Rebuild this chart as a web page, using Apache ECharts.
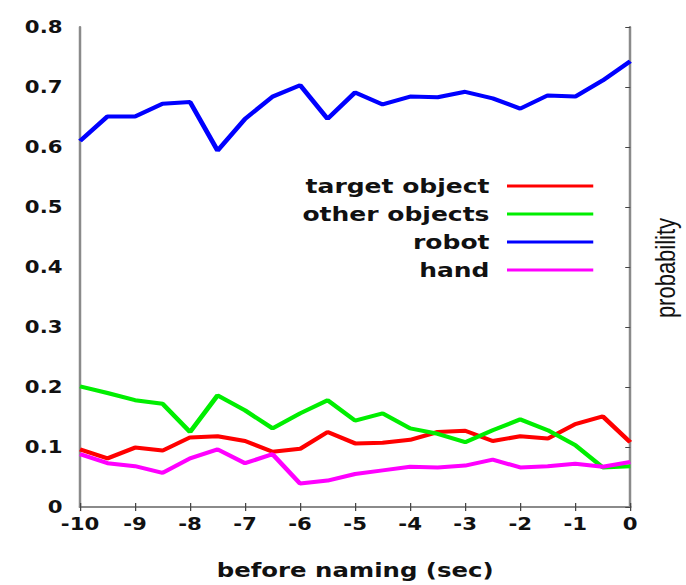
<!DOCTYPE html>
<html>
<head>
<meta charset="utf-8">
<script src="https://cdn.jsdelivr.net/npm/echarts@6/dist/echarts.min.js"></script>
<style>
  html, body { margin: 0; padding: 0; background: #fff; overflow: hidden; }
  /* the original figure is stretched sideways; draw narrow and widen it */
  #chart { width: 548.8px; height: 585px; transform: scaleX(1.25); transform-origin: 0 0; }
</style>
</head>
<body>
<div id="chart"></div>
<script>
const chart = echarts.init(document.getElementById("chart"), null, { renderer: "svg" });

// seconds before naming, every half second
const seconds = [-10, -9.5, -9, -8.5, -8, -7.5, -7, -6.5, -6, -5.5, -5,
  -4.5, -4, -3.5, -3, -2.5, -2, -1.5, -1, -0.5, 0];

const targetObject = [0.096, 0.081, 0.099, 0.094, 0.116, 0.118, 0.110, 0.092, 0.097, 0.125, 0.106,
  0.107, 0.112, 0.125, 0.127, 0.110, 0.118, 0.114, 0.138, 0.151, 0.108];
const otherObjects = [0.201, 0.190, 0.178, 0.172, 0.125, 0.186, 0.161, 0.131, 0.156, 0.178, 0.144,
  0.156, 0.131, 0.122, 0.108, 0.128, 0.146, 0.128, 0.103, 0.066, 0.068];
const robot = [0.610, 0.651, 0.651, 0.672, 0.675, 0.594, 0.647, 0.684, 0.703, 0.647, 0.691,
  0.671, 0.684, 0.683, 0.692, 0.681, 0.664, 0.686, 0.684, 0.711, 0.743];
const hand = [0.088, 0.073, 0.068, 0.057, 0.081, 0.096, 0.073, 0.088, 0.039, 0.044, 0.055,
  0.061, 0.067, 0.066, 0.069, 0.079, 0.066, 0.068, 0.072, 0.067, 0.075];

const seriesNames = ["target object", "other objects", "robot", "hand"];
const seriesColors = ["#ff0000", "#00ee00", "#0000ff", "#ff00ff"];
const seriesValues = [targetObject, otherObjects, robot, hand];

const tickFont = {
  fontFamily: "DejaVu Sans",
  fontWeight: "bold",
  fontSize: 17,
  color: "#111"
};
const bigFont = Object.assign({}, tickFont, { fontSize: 19.5 });

const axisLineStyle = { color: "#8a8a8a", width: 2 };
const tickStyle = { inside: true, length: 4, lineStyle: { color: "#444", width: 1 } };

const option = {
  animation: false,
  grid: { left: 64, right: 44.8, top: 27, bottom: 78 },
  legend: {
    orient: "vertical",
    right: 74.4,
    top: 176,
    padding: 0,
    align: "right",
    itemWidth: 69,
    itemHeight: 3,
    itemGap: 8,
    icon: "rect",
    textStyle: Object.assign({}, bigFont, {
      fontSize: 20, width: 190, align: "right", lineHeight: 20, padding: [0, 9, 0, 0]
    }),
    data: seriesNames.map((n, i) => ({
      name: n,
      itemStyle: { color: seriesColors[i] }
    }))
  },
  xAxis: [
    {
      type: "value",
      min: -10,
      max: 0,
      interval: 1,
      name: "before naming (sec)",
      nameLocation: "middle",
      nameGap: 53,
      nameTextStyle: bigFont,
      axisLine: { onZero: false, lineStyle: axisLineStyle },
      axisTick: tickStyle,
      axisLabel: Object.assign({}, tickFont, { margin: 9 }),
      splitLine: { show: false }
    },
    {
      type: "value",
      position: "top",
      min: -10,
      max: 0,
      interval: 1,
      axisLine: { show: true, lineStyle: axisLineStyle },
      axisTick: tickStyle,
      axisLabel: { show: false },
      splitLine: { show: false }
    }
  ],
  yAxis: [
    {
      type: "value",
      min: 0,
      max: 0.8,
      interval: 0.1,
      axisLine: { show: true, onZero: false, lineStyle: axisLineStyle },
      axisTick: { show: false },
      axisLabel: Object.assign({}, tickFont, {
        margin: 14,
        formatter: v => (v === 0 ? "0" : v.toFixed(1))
      }),
      splitLine: { show: false }
    },
    {
      type: "value",
      position: "right",
      min: 0,
      max: 0.8,
      interval: 0.1,
      axisLine: { show: true, lineStyle: axisLineStyle },
      axisTick: tickStyle,
      axisLabel: { show: false },
      splitLine: { show: false }
    }
  ],
  graphic: [
    {
      type: "text",
      x: 532,
      y: 268,
      rotation: Math.PI / 2,
      style: {
        text: "probability",
        fontFamily: "Liberation Sans",
        fontSize: 22,
        fill: "#111",
        align: "center",
        verticalAlign: "middle"
      }
    }
  ],
  series: seriesNames.map((name, i) => ({
    name: name,
    type: "line",
    symbol: "none",
    data: seconds.map((s, k) => [s, seriesValues[i][k]]),
    lineStyle: { color: seriesColors[i], width: 4 },
    itemStyle: { color: seriesColors[i] }
  }))
};

chart.setOption(option);
</script>
</body>
</html>
